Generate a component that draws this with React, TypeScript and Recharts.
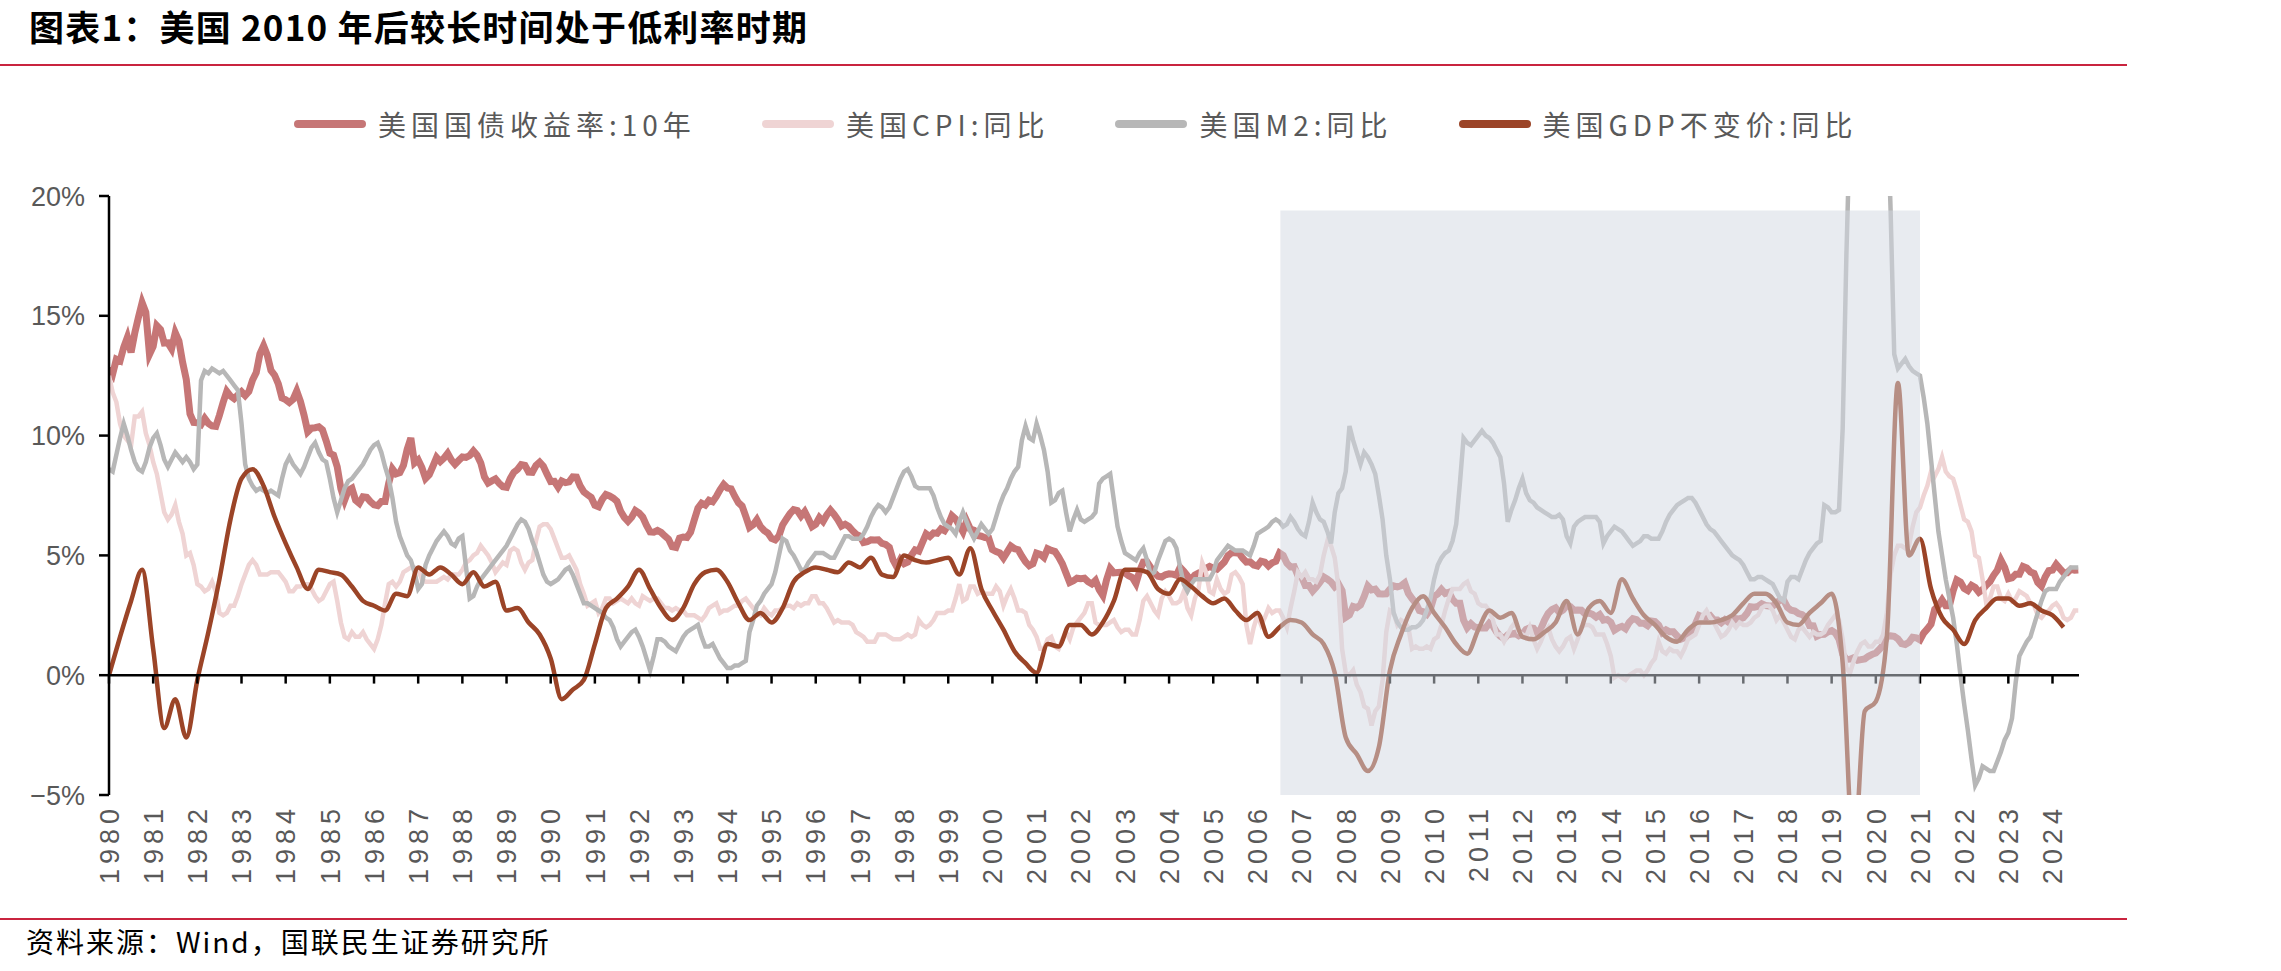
import React from "react";
import { LineChart, Line, XAxis, YAxis, ReferenceLine, ReferenceArea } from "recharts";

// x position: label year on the axis (the source plots each month / quarter one year left of its date)
// monthly series start at Dec 1980 -> x = 1980, quarterly series start at 1980Q4 -> x = 1980

const yearTicks = [
  1980, 1981, 1982, 1983, 1984, 1985, 1986, 1987, 1988, 1989, 1990, 1991, 1992, 1993, 1994,
  1995, 1996, 1997, 1998, 1999, 2000, 2001, 2002, 2003, 2004, 2005, 2006, 2007, 2008, 2009,
  2010, 2011, 2012, 2013, 2014, 2015, 2016, 2017, 2018, 2019, 2020, 2021, 2022, 2023, 2024,
];
const pctTicks = [-5, 0, 5, 10, 15, 20];

const seriesNames = ["美国国债收益率:10年", "美国CPI:同比", "美国M2:同比", "美国GDP不变价:同比"];
const seriesColors = ["#c67676", "#efd4d4", "#b7b7b7", "#9b4427"];

// shaded low-rate period
const lowRateFrom = 2006.52;
const lowRateTo = 2021;
const lowRateTop = 19.4;

// 10Y treasury yield, monthly, %
const treasury10y = [
  12.84,
  12.57, 13.19, 13.12, 13.68, 14.1, 13.47, 14.28, 14.94, 15.55, 15.15, 13.39, 13.72,
  14.59, 14.43, 13.86, 13.87, 13.62, 14.3, 13.95, 13.06, 12.34, 10.91, 10.55, 10.54,
  10.46, 10.72, 10.51, 10.4, 10.38, 10.85, 11.38, 11.85, 11.65, 11.54, 11.69, 11.83,
  11.67, 11.84, 12.32, 12.63, 13.41, 13.75, 13.36, 12.72, 12.52, 12.16, 11.57, 11.5,
  11.38, 11.51, 11.86, 11.43, 10.85, 10.16, 10.31, 10.33, 10.37, 10.24, 9.78, 9.26,
  9.19, 8.7, 7.78, 7.3, 7.71, 7.8, 7.3, 7.17, 7.45, 7.43, 7.25, 7.11,
  7.08, 7.25, 7.25, 8.02, 8.61, 8.4, 8.45, 8.76, 9.42, 9.9, 8.86, 8.99,
  8.67, 8.21, 8.37, 8.72, 9.09, 8.92, 9.06, 9.26, 8.98, 8.8, 8.96, 9.11,
  9.09, 9.17, 9.36, 9.18, 8.86, 8.28, 8.02, 8.11, 8.19, 8.01, 7.87, 7.84,
  8.21, 8.47, 8.59, 8.79, 8.76, 8.48, 8.47, 8.75, 8.89, 8.72, 8.39, 8.08,
  8.09, 7.85, 8.11, 8.04, 8.07, 8.28, 8.27, 7.9, 7.65, 7.53, 7.42, 7.09,
  7.03, 7.34, 7.54, 7.48, 7.39, 7.26, 6.84, 6.59, 6.42, 6.59, 6.87, 6.77,
  6.6, 6.26, 5.98, 5.97, 6.04, 5.96, 5.81, 5.68, 5.36, 5.33, 5.72, 5.77,
  5.75, 5.97, 6.48, 6.97, 7.18, 7.1, 7.3, 7.24, 7.46, 7.74, 7.96, 7.81,
  7.78, 7.47, 7.2, 7.06, 6.63, 6.17, 6.28, 6.49, 6.2, 6.04, 5.93, 5.71,
  5.65, 5.81, 6.27, 6.51, 6.74, 6.91, 6.87, 6.64, 6.83, 6.53, 6.2, 6.3,
  6.58, 6.42, 6.69, 6.89, 6.71, 6.49, 6.22, 6.3, 6.21, 6.03, 5.88, 5.81,
  5.54, 5.57, 5.65, 5.64, 5.65, 5.5, 5.46, 5.34, 4.81, 4.53, 4.83, 4.65,
  4.72, 5.0, 5.23, 5.18, 5.54, 5.9, 5.79, 5.94, 5.92, 6.11, 6.03, 6.28,
  6.66, 6.52, 6.26, 5.99, 6.44, 6.1, 6.05, 5.83, 5.8, 5.74, 5.72, 5.24,
  5.16, 5.1, 4.89, 5.14, 5.39, 5.28, 5.24, 4.97, 4.73, 4.57, 4.65, 5.09,
  5.04, 4.91, 5.28, 5.21, 5.16, 4.93, 4.65, 4.26, 3.87, 3.94, 4.05, 4.03,
  4.05, 3.9, 3.81, 3.96, 3.57, 3.33, 3.98, 4.45, 4.27, 4.29, 4.3, 4.27,
  4.15, 4.08, 3.83, 4.35, 4.72, 4.73, 4.5, 4.28, 4.13, 4.1, 4.19, 4.23,
  4.22, 4.17, 4.5, 4.34, 4.14, 4.0, 4.18, 4.26, 4.2, 4.46, 4.54, 4.47,
  4.42, 4.57, 4.72, 4.99, 5.11, 5.11, 5.09, 4.88, 4.72, 4.73, 4.6, 4.56,
  4.76, 4.72, 4.56, 4.69, 4.75, 5.1, 5.0, 4.67, 4.52, 4.53, 4.15, 4.1,
  3.74, 3.74, 3.51, 3.68, 3.88, 4.1, 4.01, 3.89, 3.69, 3.81, 3.53, 2.42,
  2.52, 2.87, 2.82, 2.93, 3.29, 3.72, 3.56, 3.59, 3.4, 3.39, 3.4, 3.59,
  3.73, 3.69, 3.73, 3.85, 3.42, 3.2, 3.01, 2.7, 2.65, 2.54, 2.76, 3.29,
  3.39, 3.58, 3.41, 3.46, 3.17, 3.0, 3.0, 2.3, 1.98, 2.15, 2.01, 1.98,
  1.97, 1.97, 2.17, 2.05, 1.8, 1.62, 1.53, 1.68, 1.72, 1.75, 1.65, 1.72,
  1.91, 1.98, 1.96, 1.76, 1.93, 2.3, 2.58, 2.74, 2.81, 2.62, 2.72, 2.9,
  2.86, 2.71, 2.72, 2.71, 2.56, 2.6, 2.54, 2.42, 2.53, 2.3, 2.33, 2.21,
  1.88, 1.98, 2.04, 1.94, 2.2, 2.36, 2.32, 2.17, 2.17, 2.07, 2.26, 2.24,
  2.09, 1.78, 1.89, 1.81, 1.81, 1.64, 1.5, 1.56, 1.63, 1.76, 2.14, 2.49,
  2.43, 2.42, 2.48, 2.3, 2.3, 2.19, 2.32, 2.21, 2.2, 2.36, 2.35, 2.4,
  2.58, 2.86, 2.84, 2.87, 2.98, 2.91, 2.89, 2.89, 3.0, 3.15, 3.12, 2.83,
  2.71, 2.68, 2.57, 2.53, 2.4, 2.07, 2.06, 1.63, 1.7, 1.71, 1.81, 1.86,
  1.76, 1.5, 0.87, 0.66, 0.67, 0.73, 0.62, 0.65, 0.68, 0.79, 0.87, 0.93,
  1.08, 1.26, 1.61, 1.64, 1.62, 1.52, 1.32, 1.28, 1.37, 1.58, 1.56, 1.47,
  1.76, 1.93, 2.13, 2.75, 2.9, 3.14, 2.9, 2.9, 3.52, 3.98, 3.89, 3.62,
  3.53, 3.75, 3.66, 3.46, 3.57, 3.75, 3.9, 4.17, 4.38, 4.8, 4.5, 4.02,
  4.06, 4.21, 4.21, 4.54, 4.48, 4.31, 4.25, 3.87, 3.72, 4.1, 4.36, 4.39,
  4.63, 4.45, 4.28, 4.28, 4.42, 4.38, 4.39,
];

// CPI YoY, monthly, %
const cpiYoY = [
  12.5,
  11.8, 11.4, 10.5, 10.0, 9.8, 9.6, 10.8, 10.8, 11.0, 10.1, 9.6, 8.9,
  8.4, 7.6, 6.8, 6.5, 6.7, 7.1, 6.4, 5.9, 5.0, 5.1, 4.6, 3.8,
  3.7, 3.5, 3.6, 3.9, 3.5, 2.6, 2.5, 2.6, 2.9, 2.9, 3.3, 3.8,
  4.2, 4.6, 4.8, 4.6, 4.2, 4.2, 4.2, 4.3, 4.3, 4.3, 4.1, 3.9,
  3.5, 3.5, 3.7, 3.7, 3.8, 3.8, 3.6, 3.3, 3.1, 3.2, 3.5, 3.8,
  3.9, 3.1, 2.2, 1.6, 1.5, 1.8, 1.6, 1.6, 1.8, 1.5, 1.3, 1.1,
  1.5, 2.1, 3.0, 3.8, 3.9, 3.7, 3.9, 4.3, 4.4, 4.5, 4.5, 4.4,
  4.0, 3.9, 3.9, 3.9, 3.9, 4.0, 4.1, 4.0, 4.2, 4.2, 4.2, 4.4,
  4.7, 4.8, 5.0, 5.1, 5.4, 5.2, 5.0, 4.7, 4.3, 4.5, 4.7, 4.6,
  5.2, 5.3, 5.2, 4.7, 4.4, 4.7, 4.8, 5.6, 6.2, 6.3, 6.3, 6.1,
  5.7, 5.3, 4.9, 4.9, 5.0, 4.7, 4.4, 3.8, 3.4, 2.9, 3.0, 3.1,
  2.6, 2.8, 3.2, 3.2, 3.0, 3.1, 3.2, 3.1, 3.0, 3.2, 3.0, 2.9,
  3.3, 3.2, 3.1, 3.2, 3.2, 3.0, 2.8, 2.8, 2.7, 2.8, 2.7, 2.7,
  2.5, 2.5, 2.5, 2.4, 2.3, 2.5, 2.8, 2.9, 3.0, 2.6, 2.7, 2.7,
  2.8, 2.9, 2.9, 3.1, 3.2, 3.0, 2.8, 2.6, 2.5, 2.8, 2.6, 2.5,
  2.7, 2.7, 2.8, 2.9, 2.9, 2.8, 3.0, 2.9, 3.0, 3.0, 3.3, 3.3,
  3.0, 3.0, 2.8, 2.5, 2.2, 2.3, 2.2, 2.2, 2.2, 2.1, 1.8, 1.7,
  1.6, 1.4, 1.4, 1.4, 1.7, 1.7, 1.7, 1.6, 1.5, 1.5, 1.5, 1.6,
  1.7, 1.6, 1.7, 2.3, 2.1, 2.0, 2.1, 2.3, 2.6, 2.6, 2.6, 2.7,
  2.7, 3.2, 3.8, 3.1, 3.2, 3.7, 3.7, 3.4, 3.5, 3.4, 3.4, 3.4,
  3.7, 3.5, 2.9, 3.3, 3.6, 3.2, 2.7, 2.7, 2.6, 2.1, 1.9, 1.6,
  1.1, 1.1, 1.5, 1.6, 1.2, 1.1, 1.5, 1.8, 1.5, 2.0, 2.2, 2.4,
  2.6, 3.0, 3.0, 2.2, 2.1, 2.1, 2.1, 2.2, 2.3, 2.0, 1.8, 1.9,
  1.9, 1.7, 1.7, 2.3, 3.1, 3.3, 3.0, 2.7, 2.5, 3.2, 3.5, 3.3,
  3.0, 3.0, 3.1, 3.5, 2.8, 2.5, 3.2, 3.6, 4.7, 4.3, 3.5, 3.4,
  4.0, 3.6, 3.4, 3.5, 4.2, 4.3, 4.1, 3.8, 2.1, 1.3, 2.0, 2.5,
  2.1, 2.4, 2.8, 2.6, 2.7, 2.7, 2.4, 2.0, 2.8, 3.5, 4.3, 4.1,
  4.3, 4.0, 4.0, 3.9, 4.2, 5.0, 5.6, 5.4, 4.9, 3.7, 1.1, 0.1,
  0.0, 0.2, -0.4, -0.7, -1.3, -1.4, -2.1, -1.5, -1.3, -0.2, 1.8, 2.7,
  2.6, 2.1, 2.3, 2.2, 2.0, 1.1, 1.2, 1.1, 1.1, 1.2, 1.1, 1.5,
  1.6, 2.1, 2.7, 3.2, 3.6, 3.6, 3.6, 3.8, 3.9, 3.5, 3.4, 3.0,
  2.9, 2.9, 2.7, 2.3, 1.7, 1.7, 1.4, 1.7, 2.0, 2.2, 1.8, 1.7,
  1.6, 2.0, 1.5, 1.1, 1.4, 1.8, 2.0, 1.5, 1.2, 1.0, 1.2, 1.5,
  1.6, 1.1, 1.5, 2.0, 2.1, 2.1, 2.0, 1.7, 1.7, 1.7, 1.3, 0.8,
  -0.1, 0.0, -0.1, -0.2, 0.0, 0.1, 0.2, 0.2, 0.0, 0.2, 0.5, 0.7,
  1.4, 1.0, 0.9, 1.1, 1.0, 1.0, 0.8, 1.1, 1.5, 1.6, 1.7, 2.1,
  2.5, 2.7, 2.4, 2.2, 1.9, 1.6, 1.7, 1.9, 2.2, 2.0, 2.2, 2.1,
  2.1, 2.2, 2.4, 2.5, 2.8, 2.9, 2.9, 2.7, 2.3, 2.5, 2.2, 1.9,
  1.6, 1.5, 1.9, 2.0, 1.8, 1.6, 1.8, 1.7, 1.7, 1.8, 2.1, 2.3,
  2.5, 2.3, 1.5, 0.3, 0.1, 0.6, 1.0, 1.3, 1.4, 1.2, 1.2, 1.4,
  1.4, 1.7, 2.6, 4.2, 5.0, 5.4, 5.4, 5.3, 5.4, 6.2, 6.8, 7.0,
  7.5, 7.9, 8.5, 8.3, 8.6, 9.1, 8.5, 8.3, 8.2, 7.7, 7.1, 6.5,
  6.4, 6.0, 5.0, 4.9, 4.0, 3.0, 3.2, 3.7, 3.7, 3.2, 3.1, 3.4,
  3.1, 3.2, 3.5, 3.4, 3.3, 3.0, 2.9, 2.5, 2.4, 2.6, 2.7, 2.9,
  3.0, 2.8, 2.4, 2.3, 2.4, 2.7, 2.7,
];

// M2 YoY, monthly, %, one row per axis year
const m2YoY = [
  8.6, 8.5, 9.2, 9.9, 10.5, 10.0, 9.4, 8.9, 8.6, 8.5, 8.9, 9.5,
  9.9, 10.1, 9.6, 9.0, 8.7, 9.0, 9.3, 9.1, 8.9, 9.1, 8.9, 8.6,
  8.8, 12.3, 12.7, 12.6, 12.8, 12.7, 12.6, 12.7, 12.5, 12.3, 12.1, 11.9,
  10.5, 8.8, 8.2, 7.9, 7.7, 7.8, 7.7, 7.6, 7.7, 7.6, 7.5, 8.2,
  8.8, 9.1, 8.8, 8.6, 8.4, 8.7, 9.1, 9.5, 9.7, 9.3, 9.0, 8.9,
  8.2, 7.4, 6.8, 7.3, 7.8, 8.1, 8.2, 8.4, 8.6, 8.8, 9.1, 9.4,
  9.6, 9.7, 9.3, 8.7, 8.2, 7.4, 6.4, 5.8, 5.4, 5.0, 4.8, 4.3,
  3.6, 3.8, 4.6, 5.0, 5.3, 5.6, 5.8, 6.0, 5.8, 5.5, 5.4, 5.7,
  5.8, 4.5, 3.2, 3.3, 3.7, 4.0, 4.2, 4.4, 4.6, 4.8, 5.0, 5.2,
  5.4, 5.7, 6.0, 6.3, 6.5, 6.4, 6.1, 5.6, 5.2, 4.7, 4.2, 3.9,
  3.8, 3.9, 4.0, 4.2, 4.4, 4.5, 4.2, 3.8, 3.4, 3.0, 3.0, 2.9,
  2.8, 2.7, 2.6, 2.4, 2.3, 2.0, 1.5, 1.2, 1.4, 1.6, 1.8, 1.9,
  1.6, 1.2, 0.7, 0.2, 0.8, 1.5, 1.5, 1.4, 1.2, 1.1, 1.0, 1.3,
  1.6, 1.8, 1.9, 2.0, 2.1, 1.6, 1.2, 1.2, 1.3, 1.0, 0.7, 0.5,
  0.3, 0.3, 0.4, 0.4, 0.5, 0.6, 1.8, 2.3, 2.9, 3.1, 3.4, 3.6,
  3.8, 4.3, 5.0, 5.7, 5.6, 5.2, 5.0, 4.7, 4.4, 4.4, 4.7, 4.9,
  5.1, 5.1, 5.1, 5.0, 4.9, 4.9, 5.2, 5.5, 5.8, 5.8, 5.7, 5.7,
  5.7, 5.9, 6.2, 6.6, 6.9, 7.1, 7.0, 6.8, 7.0, 7.4, 7.8, 8.2,
  8.5, 8.6, 8.3, 7.9, 7.8, 7.8, 7.8, 7.8, 7.5, 7.0, 6.6, 6.3,
  6.2, 6.1, 5.9, 6.4, 6.8, 6.4, 6.0, 5.7, 6.0, 6.3, 6.1, 5.9,
  6.1, 6.6, 7.1, 7.5, 7.8, 8.2, 8.5, 8.7, 9.8, 10.4, 9.9, 9.8,
  10.5, 10.0, 9.4, 8.5, 7.2, 7.3, 7.6, 7.7, 6.8, 6.0, 6.5, 6.9,
  6.5, 6.4, 6.5, 6.6, 6.8, 8.0, 8.2, 8.3, 8.4, 7.3, 6.2, 5.6,
  5.1, 5.0, 4.9, 4.8, 5.1, 5.3, 4.8, 4.2, 4.3, 4.8, 5.2, 5.6,
  5.7, 5.6, 5.3, 4.5, 3.8, 3.5, 3.8, 4.0, 4.0, 4.0, 4.0, 4.0,
  4.3, 4.8, 5.0, 5.2, 5.4, 5.3, 5.2, 5.2, 5.2, 5.1, 5.0, 5.4,
  5.9, 6.0, 6.1, 6.2, 6.4, 6.5, 6.4, 6.2, 6.3, 6.6, 6.4, 6.1,
  5.9, 5.8, 6.4, 7.2, 6.8, 6.5, 6.4, 6.0, 5.5, 6.8, 7.6, 7.8,
  8.5, 10.4, 9.8, 9.3, 8.8, 9.3, 9.1, 8.8, 8.4, 7.5, 6.5, 5.0,
  4.0, 2.6, 2.2, 2.0, 1.9, 1.9, 2.0, 2.0, 2.1, 2.3, 2.7, 3.2,
  4.0, 4.6, 4.9, 5.1, 5.2, 5.6, 6.3, 8.0, 9.9, 9.7, 9.6, 9.8,
  10.0, 10.2, 10.0, 9.9, 9.7, 9.4, 9.1, 8.0, 6.4, 6.9, 7.3, 7.8,
  8.2, 7.6, 7.3, 7.2, 7.0, 6.9, 6.8, 6.7, 6.6, 6.6, 6.7, 6.5,
  5.8, 5.5, 6.2, 6.4, 6.5, 6.6, 6.6, 6.6, 6.6, 6.4, 5.5, 5.8,
  6.0, 6.2, 6.1, 6.0, 5.8, 5.6, 5.4, 5.5, 5.6, 5.8, 5.8, 5.7,
  5.7, 5.7, 6.0, 6.4, 6.7, 6.9, 7.1, 7.2, 7.3, 7.4, 7.4, 7.2,
  6.9, 6.6, 6.3, 6.1, 6.0, 5.8, 5.6, 5.4, 5.2, 5.0, 4.9, 4.8,
  4.6, 4.3, 4.0, 4.0, 4.1, 4.1, 4.0, 3.9, 3.8, 3.5, 3.2, 3.1,
  3.9, 4.1, 4.1, 4.0, 4.4, 4.8, 5.1, 5.3, 5.5, 5.6, 7.1, 7.0,
  6.8, 6.8, 6.9, 10.3, 17.5, 23.1, 23.5, 23.2, 23.4, 24.1, 24.3, 24.9,
  25.0, 25.8, 26.9, 24.3, 19.5, 13.4, 12.8, 13.0, 13.2, 12.9, 12.7, 12.6,
  12.5, 11.6, 10.5, 9.0, 7.5, 6.0, 5.0, 4.0, 3.2, 2.4, 1.3, 0.0,
  -1.2, -2.3, -3.5, -4.6, -4.3, -3.8, -3.9, -4.0, -4.0, -3.6, -3.2, -2.7,
  -2.4, -1.8, -0.3, 0.8, 1.1, 1.4, 1.6, 2.1, 2.6, 3.1, 3.5, 3.6,
  3.6, 3.6, 3.9, 4.1, 4.3, 4.5, 4.5, 4.5,
];

// real GDP YoY, quarterly, %
const gdpYoY = [
  0.0, 1.6, 3.1, 4.4,
  1.1, -2.2, -1.0, -2.6,
  -0.2, 1.8, 4.0, 6.5,
  8.2, 8.6, 7.9, 6.6,
  5.5, 4.5, 3.6, 4.4,
  4.3, 4.2, 3.7, 3.1,
  2.9, 2.7, 3.4, 3.3,
  4.5, 4.2, 4.5, 4.2,
  3.8, 4.3, 3.7, 3.9,
  2.7, 2.8, 2.2, 1.7,
  0.7, -1.0, -0.6, -0.2,
  1.3, 2.8, 3.2, 3.7,
  4.4, 3.6, 2.8, 2.3,
  2.8, 3.8, 4.3, 4.4,
  3.9, 3.0, 2.3, 2.6,
  2.2, 2.8, 3.9, 4.3,
  4.5, 4.4, 4.3, 4.7,
  4.5, 4.9, 4.2, 4.1,
  5.0, 4.8, 4.7, 4.8,
  4.9, 4.2, 5.3, 3.6,
  2.7, 1.9, 1.0, 0.5,
  0.1, 1.3, 1.2, 2.1,
  2.1, 1.7, 2.2, 3.1,
  4.4, 4.4, 4.3, 3.6,
  3.4, 4.0, 3.7, 3.3,
  3.0, 3.2, 2.7, 2.3,
  2.6, 1.6, 2.0, 2.3,
  2.2, 1.7, 1.3, 0.1,
  -2.6, -3.3, -4.0, -3.0,
  0.2, 1.7, 2.8, 3.3,
  2.6, 2.0, 1.3, 0.9,
  1.9, 2.7, 2.4, 2.6,
  1.6, 1.5, 1.8, 2.2,
  3.1, 1.7, 2.8, 3.1,
  2.6, 4.0, 3.2, 2.5,
  2.1, 1.6, 1.4, 1.9,
  2.2, 2.2, 2.3, 2.5,
  3.0, 3.4, 3.4, 3.0,
  2.2, 2.1, 2.6, 3.0,
  3.4, 0.5, -7.5, -1.5,
  -1.1, 1.6, 12.2, 5.0,
  5.7, 3.6, 2.4, 1.9,
  1.3, 2.3, 2.8, 3.2,
  3.2, 2.9, 3.0, 2.7,
  2.5, 2.0,
];

const monthly = (vals: number[]) => vals.map((v, i) => ({ x: 1980 + i / 12, v }));
const quarterly = (vals: number[]) => vals.map((v, i) => ({ x: 1980 + i / 4, v }));

const yieldData = monthly(treasury10y);
const cpiData = monthly(cpiYoY);
const m2Data = monthly(m2YoY);
const gdpData = quarterly(gdpYoY);

const axisFont = "'Liberation Sans', Arial, sans-serif";
const cjkFont = "'Noto Sans CJK SC', 'Noto Sans', sans-serif";

const pctLabel = (v: number) => (v < 0 ? `\u2212${Math.abs(v)}%` : `${v}%`);

function YearTick(props: any) {
  const { x, y, payload } = props;
  return (
    <text
      transform={`translate(${x},${y + 9}) rotate(-90)`}
      textAnchor="end"
      dy="0.36em"
      fill="#595959"
      fontSize={27}
      letterSpacing={5}
      fontFamily={axisFont}
    >
      {payload.value}
    </text>
  );
}

function LegendRow() {
  return (
    <div
      style={{
        position: "absolute",
        left: 294,
        top: 104,
        display: "flex",
        alignItems: "center",
        gap: 66,
        fontFamily: cjkFont,
        fontSize: 28,
        letterSpacing: 5,
        color: "#595959",
        whiteSpace: "nowrap",
      }}
    >
      {seriesNames.map((name, i) => (
        <div key={name} style={{ display: "flex", alignItems: "center" }}>
          <div style={{ width: 72, height: 8, borderRadius: 4, background: seriesColors[i], marginRight: 12 }} />
          <span style={{ lineHeight: "40px" }}>{name}</span>
        </div>
      ))}
    </div>
  );
}

export default function App() {
  return (
    <div style={{ position: "absolute", left: 0, top: 0, width: 2281, height: 971, background: "#fff", overflow: "hidden" }}>
      <div
        style={{
          position: "absolute",
          left: 29,
          top: 4,
          fontFamily: cjkFont,
          fontWeight: 700,
          fontSize: 35,
          letterSpacing: 1.2,
          lineHeight: "44px",
          color: "#000",
          whiteSpace: "nowrap",
        }}
      >
        图表1：美国 2010 年后较长时间处于低利率时期
      </div>
      <div style={{ position: "absolute", left: 0, top: 64, width: 2127, height: 2, background: "#c9243f" }} />

      <LegendRow />

      <div style={{ position: "absolute", left: 0, top: 0 }}>
        <LineChart width={2281} height={971} margin={{ top: 196, right: 202, bottom: 76, left: 0 }}>
          <XAxis
            type="number"
            dataKey="x"
            domain={[1980, 2024.6]}
            ticks={yearTicks}
            interval={0}
            allowDataOverflow
            axisLine={false}
            tickLine={false}
            tickSize={0}
            tickMargin={0}
            height={100}
            tick={<YearTick />}
          />
          <YAxis
            type="number"
            domain={[-5, 20]}
            ticks={pctTicks}
            interval={0}
            allowDataOverflow
            width={109}
            axisLine={{ stroke: "#000", strokeWidth: 2.5 }}
            tickLine={{ stroke: "#000", strokeWidth: 2.5 }}
            tickSize={10}
            tickMargin={14}
            tick={{ fill: "#595959", fontSize: 27, fontFamily: axisFont }}
            tickFormatter={pctLabel}
          />
          <ReferenceLine y={0} stroke="#000" strokeWidth={2.5} zIndex={450} />
          {yearTicks.map((yr) => (
            <ReferenceLine
              key={yr}
              segment={[{ x: yr, y: 0 }, { x: yr, y: -0.35 }]}
              stroke="#000"
              strokeWidth={2.5}
              zIndex={450}
            />
          ))}
          <Line data={yieldData} dataKey="v" type="linear" stroke={seriesColors[0]} strokeWidth={7} dot={false} isAnimationActive={false} />
          <Line data={cpiData} dataKey="v" type="linear" stroke={seriesColors[1]} strokeWidth={4.5} dot={false} isAnimationActive={false} />
          <Line data={m2Data} dataKey="v" type="linear" stroke={seriesColors[2]} strokeWidth={4.5} dot={false} isAnimationActive={false} />
          <Line data={gdpData} dataKey="v" type="monotone" stroke={seriesColors[3]} strokeWidth={4.5} dot={false} isAnimationActive={false} />
          <ReferenceArea
            x1={lowRateFrom}
            x2={lowRateTo}
            y1={-5}
            y2={lowRateTop}
            fill="#d1d7e1"
            fillOpacity={0.5}
            stroke="none"
            zIndex={700}
          />
        </LineChart>
      </div>

      <div style={{ position: "absolute", left: 0, top: 918, width: 2127, height: 2, background: "#c9243f" }} />
      <div
        style={{
          position: "absolute",
          left: 26,
          top: 922,
          fontFamily: cjkFont,
          fontSize: 28,
          letterSpacing: 2,
          lineHeight: "38px",
          color: "#000",
          whiteSpace: "nowrap",
        }}
      >
        资料来源：Wind，国联民生证券研究所
      </div>
    </div>
  );
}
